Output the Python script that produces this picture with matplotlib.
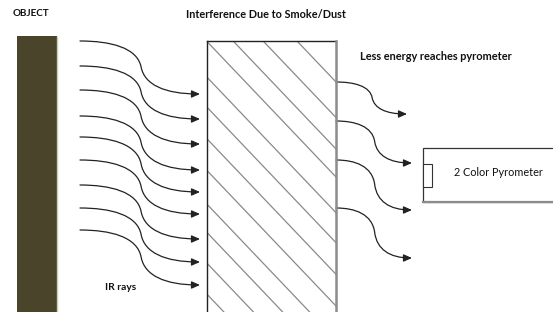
import matplotlib
matplotlib.use("Agg")
import matplotlib.pyplot as plt
from matplotlib.path import Path
from matplotlib.patches import Rectangle, FancyArrowPatch

# ---- content ----
title_object = "OBJECT"
title_interf = "Interference Due to Smoke/Dust"
title_less = "Less energy reaches pyrometer"
label_ir = "IR rays"
label_pyro = "2 Color Pyrometer"

# incoming IR rays (start y at x=80, end y at arrow tip x=200)
ir_start_y = [41, 66, 90, 116, 137, 160, 185, 208, 230]
ir_end_y = [94, 119, 144, 170, 192, 214, 239, 262, 285]
# outgoing (attenuated) rays
out_start_y = [82, 121, 160, 208]
out_end_y = [114, 163, 210, 258]
out_end_x = [407, 412, 412, 412]
# hatch lines: y where each line crosses the left edge of the smoke box
hatch_y0 = [-54, -18.5, 13, 41, 76.7, 106.7, 138.3, 170, 203.7, 232, 262.7, 293.7]
hatch_slope = 1.05

W, H = 553, 312
FONT = ["Lato", "DejaVu Sans"]

fig = plt.figure(figsize=(W / 100, H / 100), dpi=100)
ax = fig.add_axes([0, 0, 1, 1])
ax.set_xlim(0, W)
ax.set_ylim(H, 0)
ax.axis("off")

# object
ax.add_patch(Rectangle((17, 36), 39.5, 280, facecolor="#4a452a", edgecolor="none"))
ax.plot([57, 57], [37, 312], color="#c9cdb2", lw=1.0)

# smoke box
bx0, bx1, by0 = 206.5, 336, 41
box = Rectangle((bx0, by0), bx1 - bx0, 300, facecolor="white", edgecolor="none")
ax.add_patch(box)
for y0 in hatch_y0:
    xs = [bx0, bx1]
    ys = [y0, y0 + hatch_slope * (bx1 - bx0)]
    ln, = ax.plot(xs, ys, color="#8a8a8a", lw=0.9)
    ln.set_clip_path(box)
ax.plot([bx0, bx0], [by0, 315], color="#222222", lw=1.0)
ax.plot([bx0, bx1], [by0, by0], color="#222222", lw=1.0)
ax.plot([bx1, bx1], [by0, 315], color="#8c8c8c", lw=1.8)

# pyrometer
ax.add_patch(Rectangle((423, 148), 140, 54, facecolor="white", edgecolor="#333333", lw=0.9))
ax.plot([423, 560], [202, 202], color="#8c8c8c", lw=1.6)
ax.add_patch(Rectangle((423, 164), 9, 23, facecolor="white", edgecolor="#333333", lw=0.8))

# rays
shape = [(0, 0), (0.25, 0), (0.48, 0.12), (0.51, 0.5), (0.54, 0.82), (0.7, 1.0), (1, 1)]
codes = [Path.MOVETO] + [Path.CURVE4] * 6


def ray(x0, y0, x1, y1):
    w, h = x1 - x0, y1 - y0
    verts = [(x0 + u * w, y0 + v * h) for u, v in shape]
    p = FancyArrowPatch(path=Path(verts, codes),
                        arrowstyle="-|>,head_length=0.5,head_width=0.22",
                        mutation_scale=10, color="#222222", lw=0.9,
                        shrinkA=0, shrinkB=0)
    ax.add_patch(p)


for ys, ye in zip(ir_start_y, ir_end_y):
    ray(80, ys, 200, ye)
for ys, ye, xe in zip(out_start_y, out_end_y, out_end_x):
    ray(336, ys, xe, ye)

# text, sized to match measured widths
renderer = fig.canvas.get_renderer()


def fit_text(x, y, s, width, weight):
    t = ax.text(x, y, s, fontsize=10, fontweight=weight, ha="left", va="center",
                family=FONT, color="#111111")
    bb = t.get_window_extent(renderer=renderer)
    t.set_fontsize(10 * width / bb.width)
    return t


fit_text(13, 14, title_object, 37, "bold")
fit_text(186, 15, title_interf, 161, "bold")
fit_text(360, 57, title_less, 153, "bold")
fit_text(105, 288, label_ir, 31, "bold")
fit_text(454, 172, label_pyro, 89, "normal")

fig.savefig("out.png", dpi=100)
